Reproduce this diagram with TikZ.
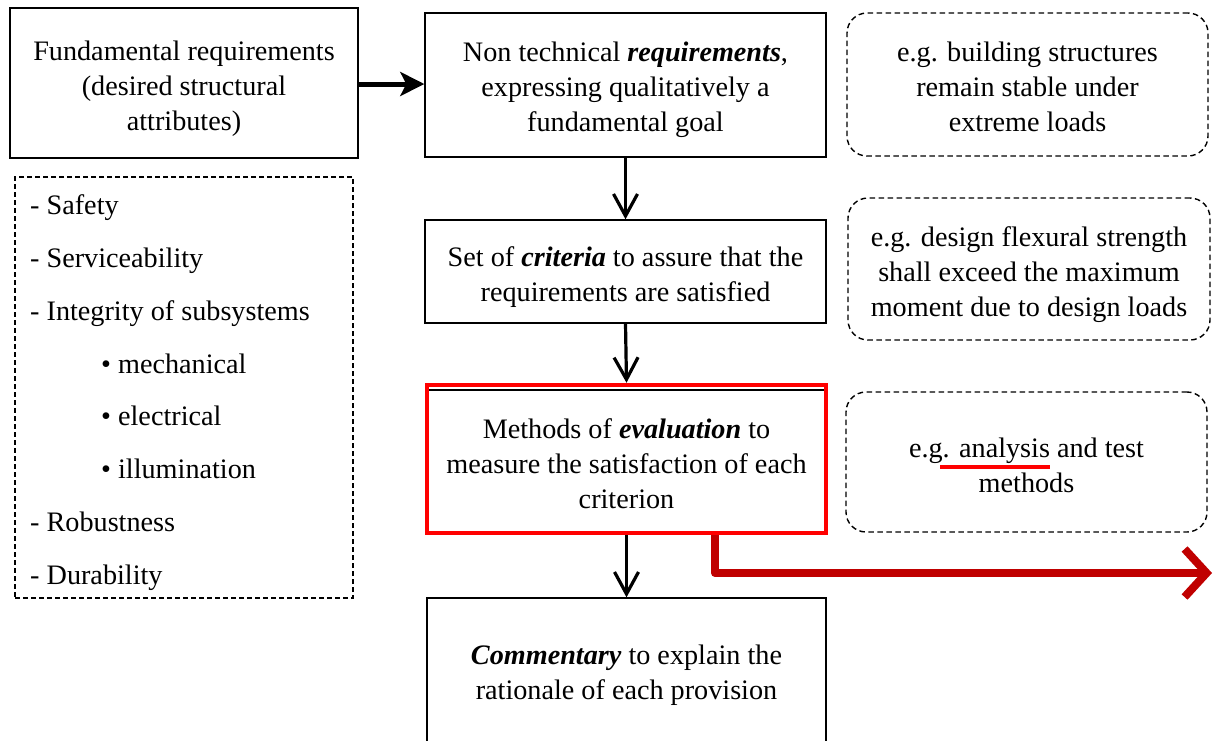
\documentclass[tikz,border=0pt]{standalone}
\usepackage{fontspec}
\setmainfont{Liberation Serif}
\usetikzlibrary{arrows.meta}
\definecolor{dred}{RGB}{192,0,0}
\definecolor{bred}{RGB}{255,0,0}
\begin{document}
\begin{tikzpicture}[x=1pt,y=-1pt,
  tfont/.style={font=\fontsize{28.2}{35}\selectfont},
  box/.style={draw=black,line width=1.4pt,inner sep=0pt},
  note/.style={box,dash pattern=on 5.5pt off 3.5pt,rounded corners=20pt},
  txt/.style={align=center,inner sep=0pt,tfont},
  item/.style={anchor=base west,inner sep=0pt,tfont},
  flow/.style={line width=3.2pt,-{Straight Barb[length=22pt,width=24pt,line width=3.2pt]}},
]
\useasboundingbox (0,0) rectangle (1214,740);
\fill[white] (0,0) rectangle (1214,740);

\node[box,minimum width=348pt,minimum height=150pt] (A) at (184,83) {};
\node[txt] (At) at ([yshift=-6pt]A.center) {Fundamental requirements\\(desired structural\\attributes)};
\node[box,minimum width=401pt,minimum height=144pt] (B) at (625.5,85) {};
\node[txt] (Bt) at ([yshift=-5pt]B.center) {Non technical \textbf{\textit{requirements}},\\expressing qualitatively a\\fundamental goal};
\node[note,minimum width=361pt,minimum height=143pt] (C) at (1027.5,84.5) {};
\node[txt] (Ct) at ([yshift=-2pt]C.center) {e.g. building structures\\remain stable under\\extreme loads};

\node[box,dash pattern=on 5pt off 3pt,minimum width=338pt,minimum height=421pt] (L) at (184,387.5) {};
\node[item] (l1) at (30,214) {- Safety};
\node[item] (l2) at (30,267) {- Serviceability};
\node[item] (l3) at (30,320) {- Integrity of subsystems};
\node[item] (l4) at (101,373) {• mechanical};
\node[item] (l5) at (101,425) {• electrical};
\node[item] (l6) at (101,478) {• illumination};
\node[item] (l7) at (30,531) {- Robustness};
\node[item] (l8) at (30,584) {- Durability};

\node[box,minimum width=401pt,minimum height=103pt] (D) at (625.5,271.5) {};
\node[txt] (Dt) at ([yshift=-6pt]D.center) {Set of \textbf{\textit{criteria}} to assure that the\\requirements are satisfied};
\node[note,minimum width=362pt,minimum height=142pt] (E) at (1029,269) {};
\node[txt] (Et) at ([yshift=-6pt]E.center) {e.g. design flexural strength\\shall exceed the maximum\\moment due to design loads};

\node[box,minimum width=399pt,minimum height=143pt] (F) at (626.5,461.5) {};
\node[draw=bred,line width=4.5pt,minimum width=399pt,minimum height=148pt,inner sep=0pt] (Fr) at (626.5,459) {};
\node[txt] (Ft) at ([yshift=-5pt]Fr.center) {Methods of \textbf{\textit{evaluation}} to\\measure the satisfaction of each\\criterion};
\node[note,minimum width=361pt,minimum height=140pt] (G) at (1026.5,462) {};
\node[txt] (Gt) at ([yshift=-3pt]G.center) {e.g. analysis and test\\methods};
\draw[bred,line width=4pt] (940,467) -- (1050,467);

\node[box,minimum width=399pt,minimum height=152pt] (H) at (626.5,674) {};
\node[txt] (Ht) at ([yshift=-1pt]H.center) {\textbf{\textit{Commentary}} to explain the\\rationale of each provision};

\draw[line width=5pt,-{Stealth[length=24pt,width=24pt,inset=6pt]}] (A.east |- 0,84) -- (B.west |- 0,84);
\draw[flow] (B.south) -- (D.north);
\draw[flow] (D.south) -- (Fr.north);
\draw[flow] (Fr.south) -- (H.north);

\coordinate (rturn) at (715,573);
\coordinate (rend) at (1212,573);
\draw[dred,line width=8pt,line join=round,-{Straight Barb[length=22pt,width=48pt,line width=8pt]}]
  (Fr.south -| rturn) -- (rturn) -- (rend);
\end{tikzpicture}
\end{document}
